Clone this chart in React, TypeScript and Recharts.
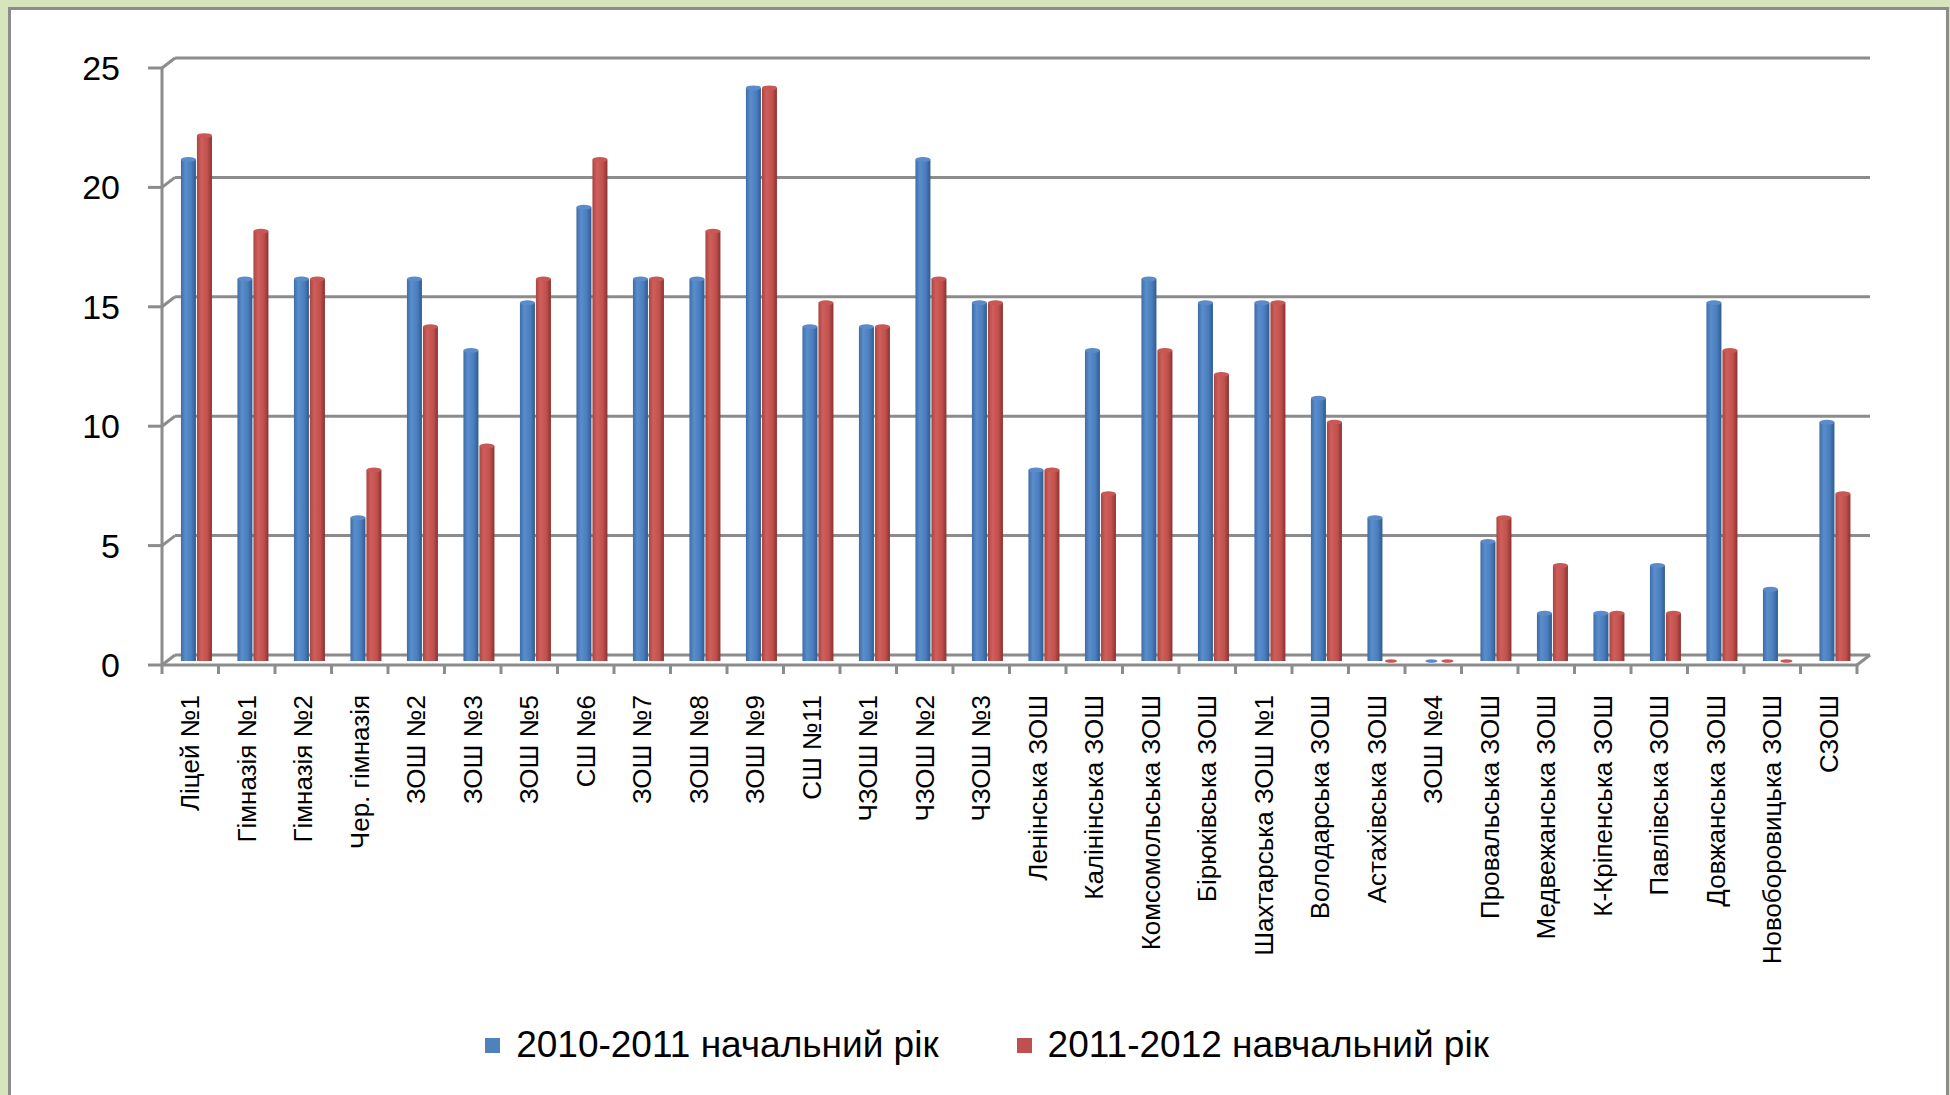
import { Bar, BarChart, CartesianGrid, Legend, XAxis, YAxis } from 'recharts'

const categories = [
  'Ліцей №1',
  'Гімназія №1',
  'Гімназія №2',
  'Чер. гімназія',
  'ЗОШ №2',
  'ЗОШ №3',
  'ЗОШ №5',
  'СШ №6',
  'ЗОШ №7',
  'ЗОШ №8',
  'ЗОШ №9',
  'СШ №11',
  'ЧЗОШ №1',
  'ЧЗОШ №2',
  'ЧЗОШ №3',
  'Ленінська ЗОШ',
  'Калінінська ЗОШ',
  'Комсомольська ЗОШ',
  'Бірюківська ЗОШ',
  'Шахтарська ЗОШ №1',
  'Володарська ЗОШ',
  'Астахівська ЗОШ',
  'ЗОШ №4',
  'Провальська ЗОШ',
  'Медвежанська ЗОШ',
  'К-Кріпенська ЗОШ',
  'Павлівська ЗОШ',
  'Довжанська ЗОШ',
  'Новоборовицька ЗОШ',
  'СЗОШ',
]

const values2010 = [21, 16, 16, 6, 16, 13, 15, 19, 16, 16, 24, 14, 14, 21, 15, 8, 13, 16, 15, 15, 11, 6, 0, 5, 2, 2, 4, 15, 3, 10]
const values2011 = [22, 18, 16, 8, 14, 9, 16, 21, 16, 18, 24, 15, 14, 16, 15, 8, 7, 13, 12, 15, 10, 0, 0, 6, 4, 2, 2, 13, 0, 7]

const yTicks = [0, 5, 10, 15, 20, 25]
const seriesNames = ['2010-2011 начальний рік', '2011-2012 навчальний рік']

const data = categories.map((name, i) => ({ name, a: values2010[i], b: values2011[i] }))

const W = 1950
const H = 1095
const PLOT_LEFT = 162
const PLOT_RIGHT = 1857
const BAND = (PLOT_RIGHT - PLOT_LEFT) / categories.length
const DEPTH_X = 13
const DEPTH_Y = 10
const GRID = '#8c8c8c'
const FONT = '"Liberation Sans", Arial, sans-serif'

function Cylinder(props: any) {
  const { x, y, width, height, grad, cap } = props
  const left = x + DEPTH_X / 2
  const top = y - DEPTH_Y / 2 + 1
  const h = Math.max(height || 0, 0)
  const rx = width / 2
  if (h < 1) {
    return <ellipse cx={left + rx} cy={top + h} rx={rx * 0.8} ry={1.8} fill={cap} />
  }
  return (
    <g>
      <rect x={left} y={top} width={width} height={h} fill={`url(#${grad})`} />
      <ellipse cx={left + rx} cy={top} rx={rx} ry={2.5} fill={cap} />
    </g>
  )
}

function GridLine(props: any) {
  const { x1, y1, x2 } = props
  const bottom = y1 > 660
  return (
    <g stroke={GRID} strokeWidth={3} fill="none">
      <line x1={x1} y1={y1} x2={x1 + DEPTH_X} y2={y1 - DEPTH_Y} />
      <line x1={x1 + DEPTH_X} y1={y1 - DEPTH_Y} x2={x2 + DEPTH_X} y2={y1 - DEPTH_Y} />
      {bottom && <line x1={x2} y1={y1} x2={x2 + DEPTH_X} y2={y1 - DEPTH_Y} />}
    </g>
  )
}

function CategoryTick(props: any) {
  const { x, y, payload, index } = props
  const axisY = y - 30
  const last = index === categories.length - 1
  return (
    <g>
      <line x1={x - BAND / 2} y1={axisY} x2={x - BAND / 2} y2={axisY + 9} stroke={GRID} strokeWidth={3} />
      {last && <line x1={x + BAND / 2} y1={axisY} x2={x + BAND / 2} y2={axisY + 9} stroke={GRID} strokeWidth={3} />}
      <text
        x={x}
        y={y}
        transform={`rotate(-90 ${x} ${y})`}
        textAnchor="end"
        dy="0.35em"
        fontSize={26}
        fontFamily={FONT}
        fill="#000"
      >
        {payload.value}
      </text>
    </g>
  )
}

function LegendContent() {
  const colors = ['#4f81bd', '#c0504d']
  return (
    <div
      style={{
        display: 'flex',
        justifyContent: 'center',
        alignItems: 'center',
        gap: 78,
        paddingLeft: 24,
        height: 100,
        fontFamily: FONT,
        fontSize: 37,
        color: '#000',
      }}
    >
      {seriesNames.map((s, i) => (
        <div key={s} style={{ display: 'flex', alignItems: 'center', gap: 16 }}>
          <span style={{ width: 15, height: 15, background: colors[i], display: 'inline-block' }} />
          <span>{s}</span>
        </div>
      ))}
    </div>
  )
}

export default function App() {
  return (
    <div style={{ position: 'absolute', left: 0, top: 0, width: W, height: H, overflow: 'hidden', background: '#d7e4bd' }}>
      <div
        style={{
          position: 'absolute',
          left: 8,
          top: 7,
          width: 1935,
          height: 1200,
          background: '#fff',
          border: `3px solid ${GRID}`,
        }}
      />
      <div style={{ position: 'absolute', left: 0, top: 0 }}>
        <BarChart
          width={W}
          height={H}
          data={data}
          margin={{ top: 68, right: W - PLOT_RIGHT, bottom: 0, left: 0 }}
          barCategoryGap="22%"
          barGap={1}
        >
          <defs>
            <linearGradient id="blueGrad" x1="0" y1="0" x2="1" y2="0">
              <stop offset="0%" stopColor="#3d6da8" />
              <stop offset="30%" stopColor="#5a8dcc" />
              <stop offset="70%" stopColor="#4a7dbd" />
              <stop offset="100%" stopColor="#2f5a8f" />
            </linearGradient>
            <linearGradient id="redGrad" x1="0" y1="0" x2="1" y2="0">
              <stop offset="0%" stopColor="#a84541" />
              <stop offset="30%" stopColor="#d05f5b" />
              <stop offset="70%" stopColor="#c0504d" />
              <stop offset="100%" stopColor="#8a3230" />
            </linearGradient>
          </defs>
          <CartesianGrid vertical={false} horizontal={(p: any) => <GridLine key={p.key} {...p} />} />
          <XAxis
            dataKey="name"
            interval={0}
            height={330}
            tickLine={false}
            tickSize={0}
            tickMargin={30}
            axisLine={{ stroke: GRID, strokeWidth: 3 }}
            tick={<CategoryTick />}
          />
          <YAxis
            width={PLOT_LEFT}
            domain={[0, 25]}
            ticks={yTicks}
            tickSize={14}
            tickMargin={28}
            tickLine={{ stroke: GRID, strokeWidth: 3 }}
            axisLine={{ stroke: GRID, strokeWidth: 3 }}
            tick={{ fontSize: 34, fontFamily: FONT, fill: '#000' }}
          />
          <Legend verticalAlign="bottom" height={100} wrapperStyle={{ left: 0, width: W }} content={<LegendContent />} />
          <Bar
            dataKey="a"
            name={seriesNames[0]}
            fill="#4f81bd"
            isAnimationActive={false}
            shape={(p: any) => <Cylinder {...p} grad="blueGrad" cap="#5b8bc8" />}
          />
          <Bar
            dataKey="b"
            name={seriesNames[1]}
            fill="#c0504d"
            isAnimationActive={false}
            shape={(p: any) => <Cylinder {...p} grad="redGrad" cap="#c95854" />}
          />
        </BarChart>
      </div>
    </div>
  )
}
